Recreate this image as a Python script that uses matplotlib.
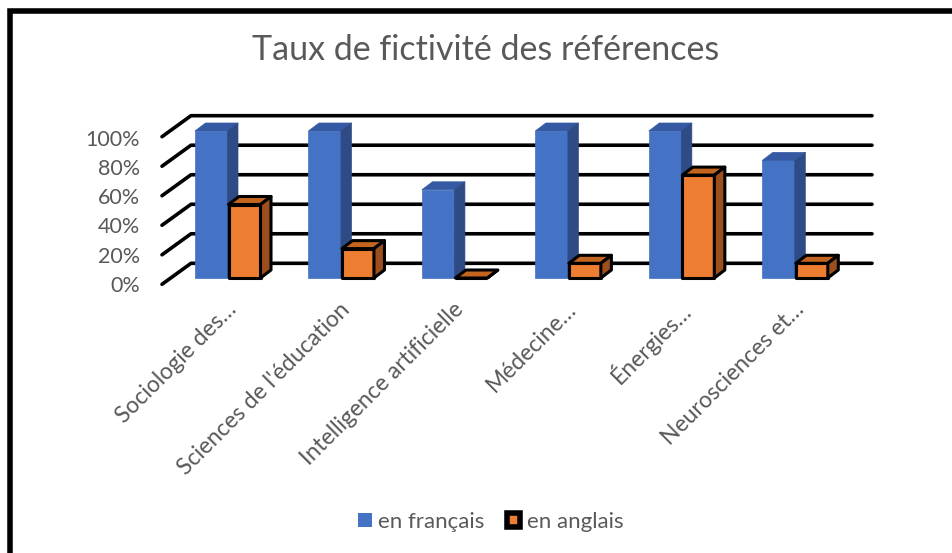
import matplotlib
matplotlib.use('Agg')
import matplotlib.pyplot as plt
from matplotlib.patches import Polygon, Patch

plt.rcParams['font.family'] = ['Lato', 'DejaVu Sans']

# donnees
categories = ['Sociologie des…', "Sciences de l'éducation", 'Intelligence artificielle',
              'Médecine…', 'Énergies…', 'Neurosciences et…']
en_francais = [100, 100, 60, 100, 100, 80]
en_anglais = [50, 20, 0, 10, 70, 10]
ticks = [0, 20, 40, 60, 80, 100]
tick_labels = ['0%', '20%', '40%', '60%', '80%', '100%']
series = ['en français', 'en anglais']
title = 'Taux de fictivité des références'

gris = '#595959'
bleu = ('#4472C4', '#3559A3', '#2E4B85')      # face, dessus, cote
orange = ('#ED7D31', '#C4651F', '#9C4E1C')

# geometrie (pixels)
BASE = 278.0        # bas des barres
K = 1.47            # px par %
DX, DY = 10.5, -8   # profondeur des barres
X0, STEP, W = 195.0, 113.46, 32.5

fig = plt.figure(figsize=(9.52, 5.53), dpi=100)
ax = fig.add_axes([0, 0, 1, 1])
ax.set_xlim(0, 952)
ax.set_ylim(553, 0)
ax.axis('off')

# cadre
ax.plot([10, 10, 952], [553, 10.5, 10.5], color='black', lw=4,
        solid_joinstyle='miter', solid_capstyle='butt')

ax.text(486, 60, title, ha='center', va='baseline', fontsize=24.5, color=gris)

# quadrillage (mur du fond + lignes de profondeur)
for t, lab in zip(ticks, tick_labels):
    yb = 263.3 - 1.476 * t
    ax.plot([162, 191, 872], [yb + 21, yb, yb], color='black', lw=2.6,
            solid_capstyle='round', solid_joinstyle='round', zorder=1)
    ax.text(140, 291.7 - 1.457 * t, lab, ha='right', va='baseline',
            fontsize=15.5, color=gris)


def boite(x, w, v, cols, edge, lw):
    y0 = BASE
    y1 = BASE - K * v
    faces = [
        ([(x, y0), (x + w, y0), (x + w, y1), (x, y1)], cols[0]),
        ([(x, y1), (x + DX, y1 + DY), (x + w + DX, y1 + DY), (x + w, y1)], cols[1]),
        ([(x + w, y0), (x + w + DX, y0 + DY), (x + w + DX, y1 + DY), (x + w, y1)], cols[2]),
    ]
    for pts, c in faces:
        ec = edge if edge else c
        ax.add_patch(Polygon(pts, closed=True, facecolor=c, edgecolor=ec,
                             lw=lw, joinstyle='round', zorder=2))


for i in range(len(categories)):
    xb = X0 + STEP * i
    boite(xb, W, en_francais[i], bleu, None, 0.5)
    boite(xb + 33.5, 32, en_anglais[i], orange, 'black', 2.2)
    ax.text(xb + 38, 306, categories[i], rotation=45, rotation_mode='anchor',
            ha='right', va='center', fontsize=16.5, color=gris)

handles = [Patch(facecolor=bleu[0], edgecolor='none'),
           Patch(facecolor=orange[0], edgecolor='black', lw=4, joinstyle='round')]
fig.legend(handles, series, loc='center', bbox_to_anchor=(491 / 952, 1 - 522 / 553),
           ncol=2, frameon=False, fontsize=16, labelcolor=gris,
           handlelength=0.6, handleheight=0.6, handletextpad=0.3,
           columnspacing=1.0)

fig.savefig('out.png', dpi=100)
